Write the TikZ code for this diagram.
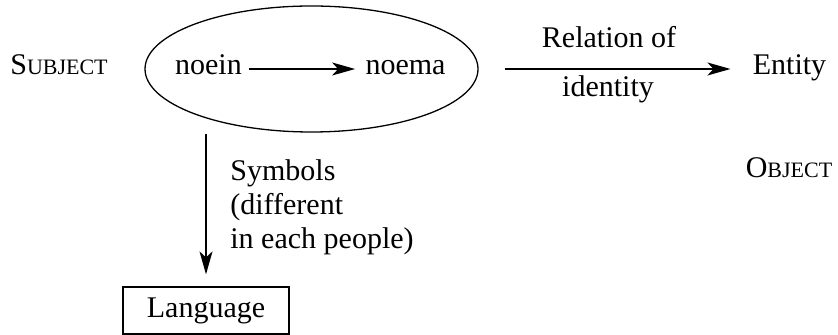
\documentclass[tikz,border=0pt]{standalone}
\usepackage{fontspec}
\setmainfont{Liberation Serif}
\newfontfamily\diagfont{Liberation Serif}
\usetikzlibrary{arrows.meta,shapes.geometric}
\newcommand{\fakesc}[2]{#1{\fontsize{11}{17}\selectfont #2}}
\begin{document}
\begin{tikzpicture}[x=.5pt,y=-.5pt,font=\diagfont\fontsize{15}{17}\selectfont,
	arr/.style={line width=.75pt,-{Stealth[length=11.5pt,width=6.5pt,inset=3pt]}},
	txt/.style={inner sep=0pt,anchor=base}]
	\useasboundingbox (0,0) rectangle (838,335);
	% the mind and its two terms
	\node [ellipse,draw,line width=.65pt,inner sep=0pt,
		minimum width=166.5pt,minimum height=63pt] (mind) at (311.5,69) {};
	\node [txt] (noein) at (208.5,75) {noein};
	\node [txt] (noema) at (405.5,75) {noema};
	\draw [arr,shorten <=3.5pt,shorten >=5pt]
		([yshift=3pt]noein.base east) -- ([yshift=3pt]noema.base west);
	% subject and object
	\node [txt] (subj) at (59,75) {\fakesc{S}{UBJECT}};
	\node [txt] (obj) at (789,178) {\fakesc{O}{BJECT}};
	% relation to the entity
	\node [txt] (entity) at (789.5,75) {Entity};
	\draw [arr,shorten <=13pt,shorten >=11pt]
		(mind.east) -- ([yshift=3pt]entity.base west);
	\node [txt] (rel) at (609,48) {Relation of};
	\node [txt] (ident) at (608,97) {identity};
	% symbols down to language
	\node [draw,line width=.6pt,minimum width=83pt,minimum height=23.5pt] (lang) at (206,310.5) {Language};
	\draw [arr,shorten <=.5pt,shorten >=6pt] (mind.south -| lang.north) -- (lang.north);
	\node [inner sep=0pt,anchor=north west,align=left] (symb) at (230,159)
		{Symbols\\(different\\in each people)};
\end{tikzpicture}
\end{document}
